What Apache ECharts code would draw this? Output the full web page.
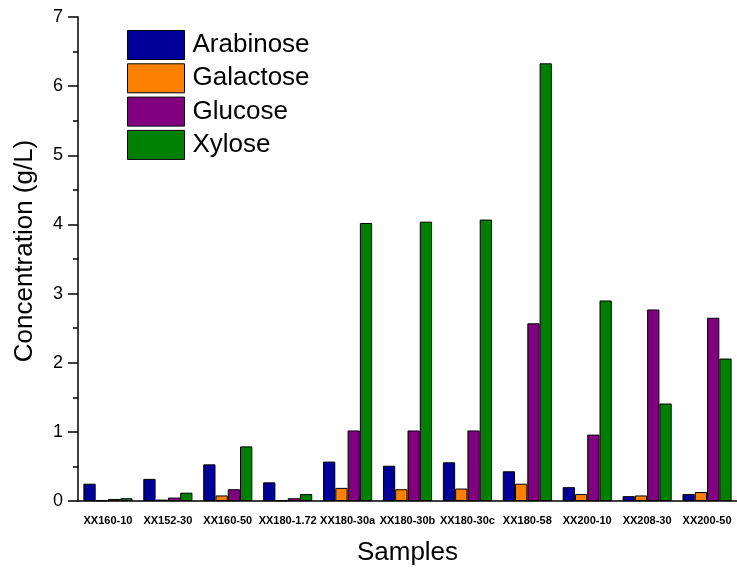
<!DOCTYPE html>
<html>
<head>
<meta charset="utf-8">
<script src="https://cdn.jsdelivr.net/npm/echarts@6/dist/echarts.min.js"></script>
<style>
html,body{margin:0;padding:0;background:#fff;}
#main{width:737px;height:575px;}
</style>
</head>
<body>
<div id="main"></div>
<script>
// samples on the x axis
var samples = ['XX160-10','XX152-30','XX160-50','XX180-1.72','XX180-30a','XX180-30b','XX180-30c','XX180-58','XX200-10','XX208-30','XX200-50'];
// concentrations (g/L)
var arabinose = [0.25,0.32,0.53,0.27,0.57,0.51,0.56,0.43,0.20,0.07,0.10];
var galactose = [0.01,0.02,0.08,0.01,0.19,0.17,0.18,0.25,0.10,0.08,0.13];
var glucose   = [0.03,0.05,0.17,0.04,1.02,1.02,1.02,2.57,0.96,2.77,2.65];
var xylose    = [0.04,0.12,0.79,0.10,4.02,4.04,4.07,6.33,2.90,1.41,2.06];
var seriesNames = ['Arabinose','Galactose','Glucose','Xylose'];
var colours = ['#000099','#ff8000','#800080','#008000'];

var chart = echarts.init(document.getElementById('main'), null, {renderer:'canvas'});

function mkSeries(name, data){
    return {
        name: name,
        type: 'bar',
        data: data,
        barGap: '0%',
        barCategoryGap: '18%',
        itemStyle: {borderColor:'#000', borderWidth:1},
        emphasis: {disabled:true},
        animation: false
    };
}

var option = {
    animation: false,
    color: colours,
    textStyle: {fontFamily:'Liberation Sans, Arial, sans-serif'},
    grid: {left:78, right:-3, top:17, bottom:74},
    legend: {
        orient: 'vertical',
        left: 127, top: 30,
        padding: 0,
        itemWidth: 57, itemHeight: 29, itemGap: 3.3,
        icon: 'rect',
        itemStyle: {borderColor:'#000', borderWidth:1},
        textStyle: {fontSize:26, lineHeight:29, color:'#000', padding:[0,0,0,3]},
        data: seriesNames
    },
    xAxis: [{
        type: 'category',
        data: samples,
        name: 'Samples',
        nameLocation: 'middle',
        nameGap: 39,
        nameTextStyle: {fontSize:26, color:'#000'},
        axisLine: {lineStyle:{color:'#000', width:1.5}},
        axisTick: {alignWithLabel:true, length:10, lineStyle:{color:'#000', width:1.5}},
        axisLabel: {interval:0, fontSize:11, fontWeight:'bold', color:'#000', margin:14}
    },{
        type: 'category',
        data: samples,
        position: 'bottom',
        axisLine: {show:false},
        axisTick: {length:5, lineStyle:{color:'#000', width:1.5}},
        axisLabel: {show:false}
    }],
    yAxis: {
        type: 'value',
        min: 0, max: 7, interval: 1,
        name: 'Concentration (g/L)',
        nameLocation: 'middle',
        nameGap: 40,
        nameTextStyle: {fontSize:26, color:'#000', padding:[0,0,0,16]},
        axisLine: {show:true, lineStyle:{color:'#000', width:1.5}},
        axisTick: {show:true, length:10, lineStyle:{color:'#000', width:1.5}},
        minorTick: {show:true, splitNumber:2, length:5, lineStyle:{color:'#000', width:1.5}},
        splitLine: {show:false},
        axisLabel: {fontSize:18, color:'#000', margin:15}
    },
    series: [
        mkSeries(seriesNames[0], arabinose),
        mkSeries(seriesNames[1], galactose),
        mkSeries(seriesNames[2], glucose),
        mkSeries(seriesNames[3], xylose)
    ]
};
chart.setOption(option);
window.onresize = chart.resize;
</script>
</body>
</html>
